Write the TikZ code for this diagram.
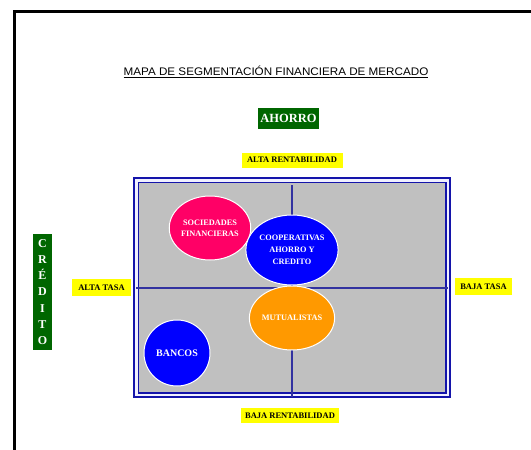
\documentclass[tikz,border=0pt]{standalone}
\usepackage{fontspec}
\setmainfont{Liberation Serif}
\newfontfamily\titlefont{Liberation Sans}
\usetikzlibrary{shapes.geometric}
\definecolor{agreen}{RGB}{0,102,0}
\definecolor{ayellow}{RGB}{255,255,0}
\definecolor{apink}{RGB}{255,0,102}
\definecolor{ablue}{RGB}{0,0,255}
\definecolor{aorange}{RGB}{255,153,0}
\definecolor{aframe}{RGB}{20,20,170}
\definecolor{across}{RGB}{50,50,160}
\definecolor{agray}{RGB}{192,192,192}
\tikzset{
  greenbox/.style={fill=agreen, text=white, font=\bfseries\fontsize{12.5}{13}\selectfont, inner sep=0pt},
  ylabel/.style={fill=ayellow, text=black, font=\bfseries\fontsize{8.5}{9}\selectfont, inner sep=0pt},
  blob/.style={ellipse, draw=white, line width=1pt, text=white, font=\bfseries\fontsize{8.3}{11}\selectfont, align=center, inner sep=0pt},
}
\begin{document}
\begin{tikzpicture}[x=1pt,y=-1pt]
\useasboundingbox (0,0) rectangle (531,450);
% black outer frame
\draw[line width=3pt] (14.5,455) -- (14.5,11) -- (535,11);
% title
\node[font=\titlefont\fontsize{11}{12}\selectfont, inner sep=0pt] (title) at (276,72)
  {\scalebox{1.06}[1]{\underline{MAPA DE SEGMENTACIÓN FINANCIERA DE MERCADO}}};
% ahorro
\node[greenbox, minimum width=61pt, minimum height=21pt] (ahorro) at (288.5,118.5) {AHORRO};
% credito
\node[greenbox, minimum width=19pt, minimum height=116pt, font=\bfseries\fontsize{12}{16.3}\selectfont, align=center] (credito) at (42.5,292)
  {C\\R\\É\\D\\I\\T\\O};
% quadrant frame
\draw[aframe, line width=1.3pt, fill=blue!6] (134,178) rectangle (450,397);
\draw[aframe, line width=1.3pt, fill=agray] (138.5,182.5) rectangle (446,393);
\coordinate (vtop) at (292,185);
\coordinate (vbot) at (292,397);
\coordinate (hl) at (136,288);
\coordinate (hr) at (448,288);
\draw[across, line width=1.2pt] (vtop) -- (vbot);
\draw[across, line width=1.2pt] (hl) -- (hr);
% axis labels
\node[ylabel, minimum width=101pt, minimum height=15pt] (altarent) at (292,160) {ALTA RENTABILIDAD};
\node[ylabel, minimum width=98pt, minimum height=15pt] (bajarent) at (290,415.5) {BAJA RENTABILIDAD};
\node[ylabel, minimum width=59pt, minimum height=17pt] (altatasa) at (101.5,287.5) {ALTA TASA};
\node[ylabel, minimum width=57pt, minimum height=17pt] (bajatasa) at (483.5,286.5) {BAJA TASA};
% blobs
\node[blob, fill=apink, minimum width=74pt, minimum height=64pt] (soc) at (210,228) {SOCIEDADES\\FINANCIERAS};
\node[blob, fill=ablue, minimum width=83pt, minimum height=70pt, font=\bfseries\fontsize{8.3}{12}\selectfont] (coop) at (292,250) {COOPERATIVAS\\AHORRO Y\\CREDITO};
\node[blob, fill=aorange, minimum width=74pt, minimum height=64pt] (mut) at (292,318) {MUTUALISTAS};
\node[blob, fill=ablue, minimum width=66pt, minimum height=66pt, font=\bfseries\fontsize{10}{12}\selectfont] (bancos) at (177,353) {BANCOS};
\end{tikzpicture}
\end{document}
